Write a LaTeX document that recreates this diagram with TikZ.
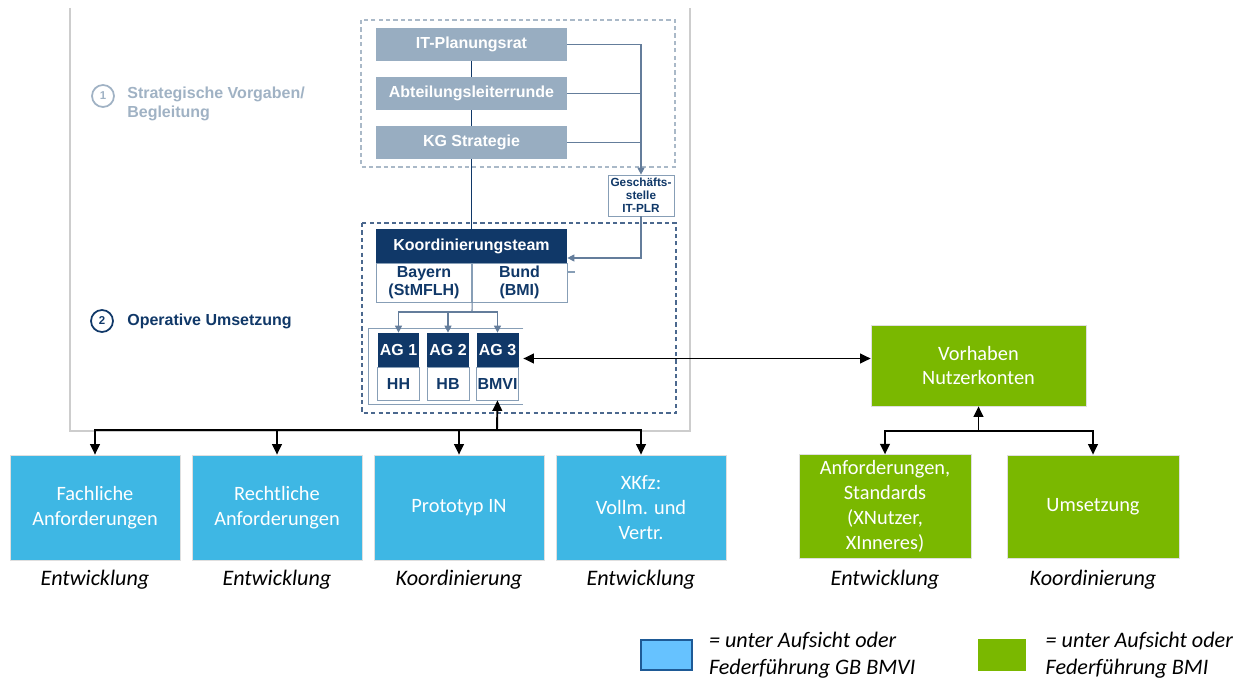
\documentclass[tikz,border=0pt]{standalone}
\usepackage{fontspec}
\setmainfont{Carlito}
\newfontfamily\helv{Liberation Sans}
\usetikzlibrary{arrows.meta, positioning}
\definecolor{stratgray}{RGB}{152,173,193}
\definecolor{stratlabel}{RGB}{160,178,196}
\definecolor{navy}{RGB}{16,56,104}
\definecolor{dashtop}{RGB}{170,185,200}
\definecolor{dashbot}{RGB}{75,104,142}
\definecolor{boxline}{RGB}{135,158,182}
\definecolor{linkcol}{RGB}{100,125,155}
\definecolor{framegray}{RGB}{205,205,205}
\definecolor{bluefill}{RGB}{62,183,228}
\definecolor{greenfill}{RGB}{122,184,0}
\definecolor{legblue}{RGB}{102,194,255}
\definecolor{legblueb}{RGB}{30,90,150}

\begin{document}
\begin{tikzpicture}[
    x=0.02cm, y=-0.02cm,
    hfont/.style={font=\helv\bfseries\fontsize{9.1}{10.5}\selectfont},
    stratbox/.style={hfont, fill=stratgray, text=white, inner sep=0,
                     minimum width=3.82cm, minimum height=0.66cm},
    teambox/.style={hfont, fill=navy, text=white, inner sep=0,
                    minimum width=3.82cm, minimum height=0.68cm},
    splitbox/.style={hfont, draw=boxline, fill=white, text=navy, align=center,
                     inner sep=0, minimum width=1.91cm, minimum height=0.78cm},
    agtop/.style={hfont, fill=navy, text=white, inner sep=0,
                  minimum width=0.84cm, minimum height=0.68cm},
    agbot/.style={hfont, draw=boxline, fill=white, text=navy, inner sep=0,
                  minimum width=0.84cm, minimum height=0.66cm},
    bluebox/.style={fill=bluefill, draw=gray!25, text=white, align=center,
                    font=\fontsize{11.6}{14.2}\selectfont,
                    minimum width=3.4cm, minimum height=2.1cm},
    greenbox/.style={fill=greenfill, draw=gray!25, text=white, align=center,
                     font=\fontsize{11.6}{14.2}\selectfont,
                     minimum width=3.44cm, minimum height=2.06cm},
    role/.style={font=\itshape\fontsize{12.6}{15.3}\selectfont},
    legtext/.style={font=\itshape\fontsize{12.6}{15.3}\selectfont,
                    align=left, inner sep=0},
    phase/.style={hfont, anchor=west, align=left, inner sep=0},
    num/.style={circle, line width=1pt, inner sep=0, minimum size=0.44cm,
                font=\helv\bfseries\fontsize{6.5}{7}\selectfont},
    link/.style={linkcol, line width=0.6pt},
    linkarr/.style={link, -{Triangle[length=4pt, width=4pt]}},
    arr/.style={-{Triangle[length=6pt, width=5.5pt]}, line width=1.1pt},
    dashbox/.style={line width=0.9pt, dash pattern=on 2.4pt off 1.8pt}
  ]
    \useasboundingbox (0,0) rectangle (1248,682);

    % Rahmen und Ebenen
    \draw[framegray, line width=0.6pt] (70,8) -- (70,431) -- (690,431) -- (690,8);
    \draw[dashbox, dashtop] (361,20) rectangle (675,167);
    \draw[dashbox, dashbot] (362,223) rectangle (676,413);

    \node[num, draw=stratlabel, text=stratlabel] (c1) at (103,96) {1};
    \node[phase, text=stratlabel] (ph1) at (127,104) {Strategische Vorgaben/\\Begleitung};
    \node[num, draw=navy, text=navy] (c2) at (102,321) {2};
    \node[phase, text=navy] (ph2) at (127,321) {Operative Umsetzung};

    % strategische Gremien
    \node[stratbox] (itplr) at (471.5,44.5) {IT-Planungsrat};
    \node[stratbox] (alr) at (471.5,93.5) {Abteilungsleiterrunde};
    \node[stratbox] (kgs) at (471.5,142.5) {KG Strategie};
    \node[hfont, draw=boxline, fill=white, text=navy, align=center, inner sep=0,
          minimum width=1.32cm, minimum height=0.82cm,
          font=\helv\bfseries\fontsize{6.7}{7.4}\selectfont] (gs) at (641,195.5)
      {Geschäfts-\\stelle\\IT-PLR};

    % Koordinierungsteam und AGs
    \node[teambox] (kteam) at (471.5,246) {Koordinierungsteam};
    \node[splitbox] (bayern) at (424,282.5) {Bayern\\(StMFLH)};
    \node[splitbox, minimum width=1.9cm] (bund) at (519.5,282.5) {Bund\\(BMI)};
    \node[minimum width=3.08cm, minimum height=1.5cm] (agframe) at (446,366.5) {};
    \node[agtop] (ag1) at (398.5,350) {AG 1};
    \node[agbot] (ag1b) at (398.5,383.5) {HH};
    \node[agtop] (ag2) at (448,350) {AG 2};
    \node[agbot] (ag2b) at (448,383.5) {HB};
    \node[agtop] (ag3) at (497.5,350) {AG 3};
    \node[agbot] (ag3b) at (497.5,383.5) {BMVI};
    \draw[boxline, line width=0.6pt] (agframe.north east) -- (agframe.north west)
      -- (agframe.south west) -- (agframe.south east);

    % Arbeitspakete
    \node[bluebox] (fach) at (95,507.5) {Fachliche\\Anforderungen};
    \node[bluebox] (recht) at (277,507.5) {Rechtliche\\Anforderungen};
    \node[bluebox] (proto) at (459,507.5) {Prototyp IN};
    \node[bluebox] (xkfz) at (641,507.5) {XKfz:\\Vollm. und\\Vertr.};
    \node[role] (r1) at (95,580) {Entwicklung};
    \node[role] (r2) at (277,580) {Entwicklung};
    \node[role] (r3) at (459,580) {Koordinierung};
    \node[role] (r4) at (641,580) {Entwicklung};

    \node[greenbox, minimum width=4.3cm, minimum height=1.62cm] (vorhaben) at (978.5,365.5)
      {Vorhaben\\Nutzerkonten};
    \node[greenbox] (anf) at (885,506.5) {Anforderungen,\\Standards\\(XNutzer,\\XInneres)};
    \node[greenbox] (ums) at (1093,506.5) {Umsetzung};
    \node[role] (r5) at (885,580) {Entwicklung};
    \node[role] (r6) at (1093,580) {Koordinierung};

    % Legende
    \node[fill=legblue, draw=legblueb, line width=0.8pt, minimum width=1.02cm,
          minimum height=0.6cm] (legb) at (666.5,655) {};
    \node[legtext, right=0.32cm of legb] (legbt) {= unter Aufsicht oder\\Federführung GB BMVI};
    \node[fill=greenfill, minimum width=0.96cm, minimum height=0.64cm] (legg) at (1002,655) {};
    \node[legtext, right=0.38cm of legg] (leggt) {= unter Aufsicht oder\\Federführung BMI};

    % Verbindungen oben
    \draw[navy, line width=0.8pt] (itplr) -- (alr);
    \draw[navy, line width=0.8pt] (alr) -- (kgs);
    \draw[navy, line width=0.8pt] (kgs) -- (kteam);
    \draw[linkarr] (itplr.east) -| (gs.north);
    \draw[link] (alr.east) -- (alr.east -| gs.north);
    \draw[link] (kgs.east) -- (kgs.east -| gs.north);
    \draw[linkarr] (gs.south) |- ([yshift=-0.24cm]kteam.east);
    \draw[boxline, line width=0.6pt] ([yshift=0.21cm]bund.east) -- ++(8,0);

    \coordinate (agbus) at (472,312);
    \draw[link] (bayern.south east) -- (agbus);
    \foreach \n in {ag1,ag2,ag3}
      \draw[linkarr] (agbus) -| (\n.north);

    % Verbindungen unten
    \draw[arr, {Triangle[length=6pt, width=5.5pt]}-{Triangle[length=6pt, width=5.5pt]}]
      ([yshift=0.16cm]agframe.east) -- ([yshift=0.16cm]agframe.east -| vorhaben.west);
    \coordinate (bus) at (497,430);
    \draw[arr] (bus) -- (ag3b.south);
    \foreach \b in {fach,recht,proto,xkfz}
      \draw[arr] (bus) -| (\b.north);
    \coordinate (gbus) at (978.5,431);
    \draw[arr] (gbus) -- (vorhaben.south);
    \draw[arr] (gbus) -| (anf.north);
    \draw[arr] (gbus) -| (ums.north);
\end{tikzpicture}
\end{document}
